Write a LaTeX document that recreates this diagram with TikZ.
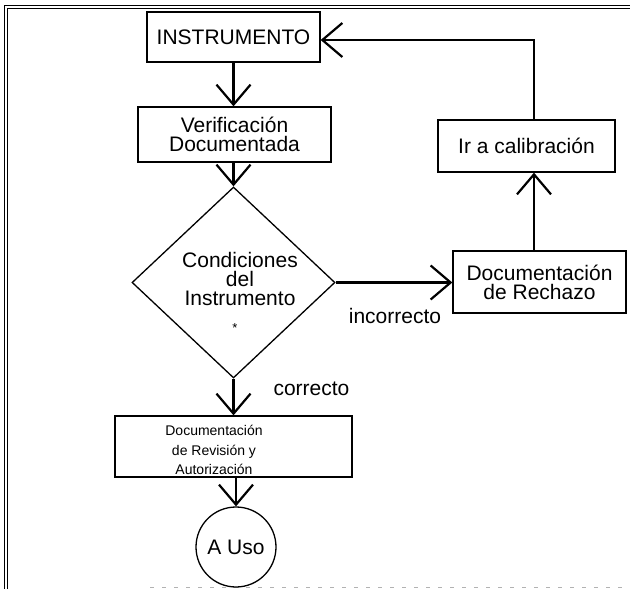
\documentclass[tikz,border=0pt]{standalone}
\usepackage{fontspec}
\setmainfont{Liberation Sans}
\usetikzlibrary{arrows.meta,shapes.geometric}
\begin{document}
\begin{tikzpicture}[x=1pt,y=-1pt,
  box/.style={draw, line width=1.3pt, rectangle, inner sep=0pt, align=center, font=\fontsize{21}{19}\selectfont},
  arr/.style={line width=2.2pt, -{Straight Barb[length=20pt,width=34pt]}},
  lbl/.style={font=\fontsize{21}{19}\selectfont, inner sep=0pt, align=center},
  small/.style={font=\fontsize{14}{19.5}\selectfont, inner sep=0pt, align=center}
]
\useasboundingbox (0,0) rectangle (630,589);
% frame
\draw[line width=0.9pt] (4,589) -- (4,5) -- (630,5);
\draw[line width=0.9pt] (7.5,589) -- (7.5,8.5) -- (630,8.5);
\draw[gray!60, line width=0.8pt, dash pattern=on 4pt off 8pt] (150,587.5) -- (630,587.5);

% nodes
\node[box, minimum width=173pt, minimum height=50pt] (inst) at (233.5,37) {INSTRUMENTO};
\node[box, minimum width=193pt, minimum height=55pt] (verif) at (234.5,134.5) {Verificación\\Documentada};
\node[draw, line width=1.3pt, diamond, minimum width=203pt, minimum height=191pt, inner sep=0pt] (cond) at (233.5,282.5) {};
\node[lbl] (condtxt) at (240,279) {Condiciones\\del\\Instrumento};
\node[inner sep=0pt, font=\fontsize{13}{13}\selectfont] (star) at (235,328) {*};
\node[box, minimum width=173pt, minimum height=62pt] (rech) at (539.5,282) {Documentación\\de Rechazo};
\node[box, minimum width=177pt, minimum height=52pt] (ir) at (526.5,146) {Ir a calibración};
\node[box, minimum width=237pt, minimum height=61pt] (rev) at (233.5,446.5) {};
\node[small] (revtxt) at (214,450) {Documentación\\de Revisión y\\Autorización};
\node[draw, line width=1.3pt, circle, minimum size=80pt, inner sep=0pt, font=\fontsize{21}{19}\selectfont] (uso) at (236,547) {A Uso};

\node[lbl] (incorr) at (395,316) {incorrecto};
\node[lbl] (corr) at (311.5,389) {correcto};

\coordinate (colx) at (534,0);
\coordinate (turn) at (534,40);

% connectors
\draw[arr] (inst.south) -- (inst.south |- verif.north);
\draw[arr] (verif.south -| cond.north) -- (cond.north);
\draw[arr] (cond.south) -- (cond.south |- rev.north);
\draw[arr] (uso.north |- rev.south) -- (uso.north);
\draw[arr] (cond.east) -- (cond.east -| rech.west);
\draw[arr] (rech.north -| colx) -- (ir.south -| colx);
\draw[arr] (ir.north -| colx) -- (turn) -- (turn -| inst.east);
\end{tikzpicture}
\end{document}
